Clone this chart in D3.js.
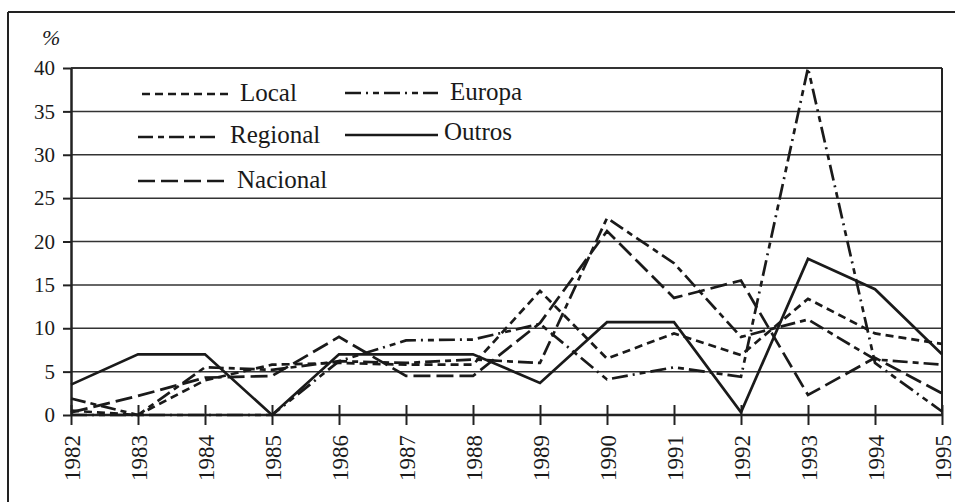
<!DOCTYPE html>
<html>
<head>
<meta charset="utf-8">
<script src="https://cdn.jsdelivr.net/npm/d3@7"></script>
<style>
  body { margin: 0; background: #fff; }
  svg { display: block; }
  text { font-family: "Liberation Serif", "Times New Roman", serif; fill: #1a1a1a; }
</style>
</head>
<body>
<div id="chart"></div>
<script>
// years on the x axis
const years = [1982, 1983, 1984, 1985, 1986, 1987, 1988, 1989, 1990, 1991, 1992, 1993, 1994, 1995];
const yTicks = [0, 5, 10, 15, 20, 25, 30, 35, 40];

// series values (%)
const local    = [0.5, 0, 4.0, 5.8, 6.0, 5.8, 5.8, 14.3, 6.5, 9.4, 6.9, 13.4, 9.4, 8.2];
const regional = [1.9, 0, 5.5, 5.2, 6.2, 6.0, 6.4, 6.0, 22.7, 17.5, 9.0, 11.0, 6.4, 5.8];
const nacional = [0.3, 2.2, 4.3, 4.5, 9.0, 4.5, 4.5, 10.6, 21.2, 13.5, 15.5, 2.3, 6.6, 2.5];
const europa   = [0, 0, 0, 0, 6.2, 8.6, 8.7, 10.5, 4.1, 5.5, 4.4, 40, 6.0, 0.4];
const outros   = [3.5, 7, 7, 0, 7, 7, 7, 3.7, 10.7, 10.7, 0.3, 18, 14.5, 7];

const seriesNames = ["Local", "Regional", "Nacional", "Europa", "Outros"];
const seriesValues = [local, regional, nacional, europa, outros];

const width = 955, height = 502;
const plotLeft = 71, plotRight = 942, plotTop = 68, plotBottom = 415;

const svg = d3.select("#chart").append("svg")
    .attr("width", width)
    .attr("height", height);

// outer frame of the scanned figure (only top and left show)
svg.append("line").attr("x1", 8).attr("x2", width).attr("y1", 12).attr("y2", 12)
    .attr("stroke", "#222").attr("stroke-width", 2);
svg.append("line").attr("x1", 8).attr("x2", 8).attr("y1", 12).attr("y2", height)
    .attr("stroke", "#222").attr("stroke-width", 2);

const x = d3.scalePoint().domain(years).range([plotLeft, plotRight]);
const y = d3.scaleLinear().domain([0, 40]).range([plotBottom, plotTop]);

// horizontal grid lines
svg.append("g")
    .selectAll("line")
    .data(yTicks.filter(d => d > 0))
    .join("line")
    .attr("x1", plotLeft).attr("x2", plotRight)
    .attr("y1", d => y(d)).attr("y2", d => y(d))
    .attr("stroke", "#333")
    .attr("stroke-width", d => d === 40 ? 2 : 1.5);

// right border of plot
svg.append("line")
    .attr("x1", plotRight).attr("x2", plotRight).attr("y1", plotTop).attr("y2", plotBottom)
    .attr("stroke", "#222").attr("stroke-width", 2);

// y axis
const yAxis = svg.append("g")
    .attr("transform", `translate(${plotLeft},0)`)
    .call(d3.axisLeft(y).tickValues(yTicks).tickSize(8).tickPadding(8).tickSizeOuter(0));
yAxis.select(".domain").attr("stroke", "#222").attr("stroke-width", 2.5);
yAxis.selectAll(".tick line").attr("stroke", "#222").attr("stroke-width", 2);
yAxis.selectAll(".tick text")
    .attr("font-size", 21)
    .attr("fill", "#1a1a1a");

svg.append("text")
    .attr("x", 42).attr("y", 45)
    .attr("font-size", 22)
    .attr("font-style", "italic")
    .text("%");

// x axis, ticks cross the baseline
const xAxis = svg.append("g")
    .attr("transform", `translate(0,${plotBottom})`)
    .call(d3.axisBottom(x).tickSize(10).tickSizeOuter(0));
xAxis.select(".domain").attr("stroke", "#222").attr("stroke-width", 2.5)
    .attr("d", `M${plotLeft},0H${plotRight}`);
xAxis.selectAll(".tick line").attr("stroke", "#222").attr("stroke-width", 2)
    .attr("y1", -10);
xAxis.selectAll(".tick text")
    .attr("font-size", 23)
    .attr("fill", "#1a1a1a")
    .attr("transform", "rotate(-90)")
    .attr("text-anchor", "end")
    .attr("dy", "0.35em")
    .attr("x", -20)
    .attr("y", 0);

const dashes = {
    "Local": "8,5",
    "Regional": "15,5,6,5",
    "Nacional": "17,6",
    "Europa": "16,5,2,5,6,5",
    "Outros": null
};

const line = d3.line()
    .x((d, i) => x(years[i]))
    .y(d => y(d));

svg.append("g")
    .selectAll("path")
    .data(seriesValues)
    .join("path")
    .attr("d", d => line(d))
    .attr("fill", "none")
    .attr("stroke", "#1a1a1a")
    .attr("stroke-width", 2.7)
    .attr("stroke-linejoin", "miter")
    .attr("stroke-dasharray", (d, i) => dashes[seriesNames[i]]);

// legend
const legendPos = {
    "Local":    { x1: 142, x2: 228, ly: 94,  tx: 240, ty: 101 },
    "Regional": { x1: 138, x2: 220, ly: 137, tx: 230, ty: 143 },
    "Nacional": { x1: 138, x2: 228, ly: 181, tx: 237, ty: 188 },
    "Europa":   { x1: 345, x2: 438, ly: 93,  tx: 450, ty: 100 },
    "Outros":   { x1: 345, x2: 438, ly: 135, tx: 444, ty: 140 }
};

const legend = svg.append("g")
    .selectAll("g")
    .data(seriesNames)
    .join("g");

legend.append("line")
    .attr("x1", d => legendPos[d].x1).attr("x2", d => legendPos[d].x2)
    .attr("y1", d => legendPos[d].ly).attr("y2", d => legendPos[d].ly)
    .attr("stroke", "#1a1a1a")
    .attr("stroke-width", 2.7)
    .attr("stroke-dasharray", d => dashes[d]);

legend.append("text")
    .attr("x", d => legendPos[d].tx)
    .attr("y", d => legendPos[d].ty)
    .attr("font-size", 25)
    .text(d => d);
</script>
</body>
</html>
